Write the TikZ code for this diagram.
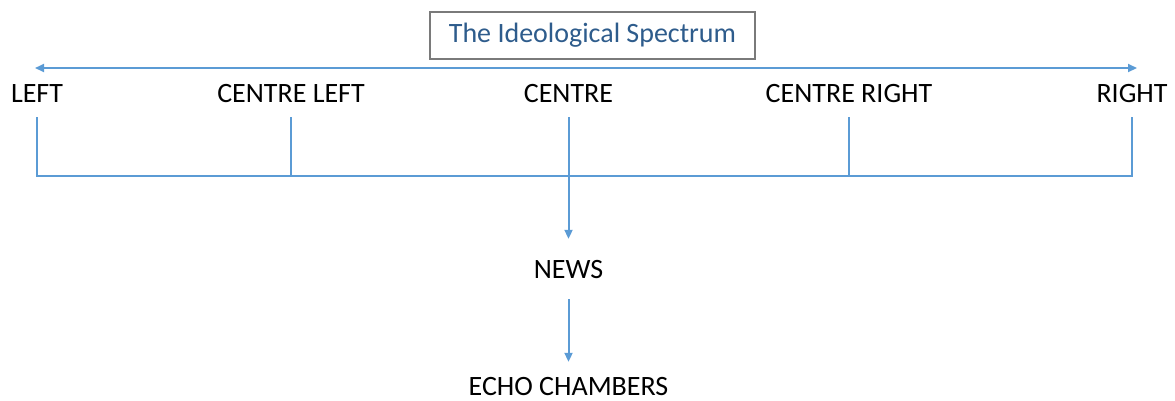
\documentclass[tikz,border=0pt]{standalone}
\usepackage{fontspec}
\setmainfont{Carlito}
\usetikzlibrary{arrows.meta}
\definecolor{linkblue}{HTML}{5B9BD5}
\definecolor{titleblue}{HTML}{2E5C8C}
\definecolor{framegray}{HTML}{7A7A7A}
\begin{document}
\begin{tikzpicture}[x=1pt,y=-1pt,
  link/.style={draw=linkblue,line width=2pt},
  tip/.style={-{Triangle[length=9pt,width=8pt]}},
  spot/.style={font=\fontsize{28}{30}\selectfont,text=black,anchor=base,
    text height=18pt,text depth=0pt,inner xsep=0pt,inner ysep=15pt},
  titlebox/.style={draw=framegray,line width=1.6pt,fill=white,
    minimum width=325pt,minimum height=47pt,inner sep=0pt,
    text=titleblue,font=\fontsize{28}{30}\selectfont}]
\useasboundingbox (0,0) rectangle (1175,400);

% spectrum axis
\coordinate (axisL) at (35,68);
\coordinate (axisR) at (1137,68);
\draw[link,{Triangle[length=9pt,width=8pt]}-{Triangle[length=9pt,width=8pt]}] (axisL) -- (axisR);
\node[titlebox] (title) at (592.5,35.5) {The Ideological Spectrum};

% positions on the spectrum
\node[spot] (left)   at (37,102)   {LEFT};
\node[spot] (cleft)  at (291,102)  {CENTRE LEFT};
\node[spot] (centre) at (568.5,102){CENTRE};
\node[spot] (cright) at (849,102)  {CENTRE RIGHT};
\node[spot] (right)  at (1132,102) {RIGHT};

% bracket joining the positions
\coordinate (bar) at (0,176);
\draw[link] (left.south) |- (bar -| right.south) -- (right.south);
\draw[link] (cleft.south) -- (cleft.south |- bar);
\draw[link] (cright.south) -- (cright.south |- bar);

% flow downwards
\node[spot,inner ysep=21pt] (news) at (568.5,278) {NEWS};
\node[spot,inner ysep=15pt] (echo) at (568.5,395) {ECHO CHAMBERS};
\draw[link,tip] (centre.south) -- (news.north);
\draw[link,tip] (news.south) -- (echo.north);
\end{tikzpicture}
\end{document}
